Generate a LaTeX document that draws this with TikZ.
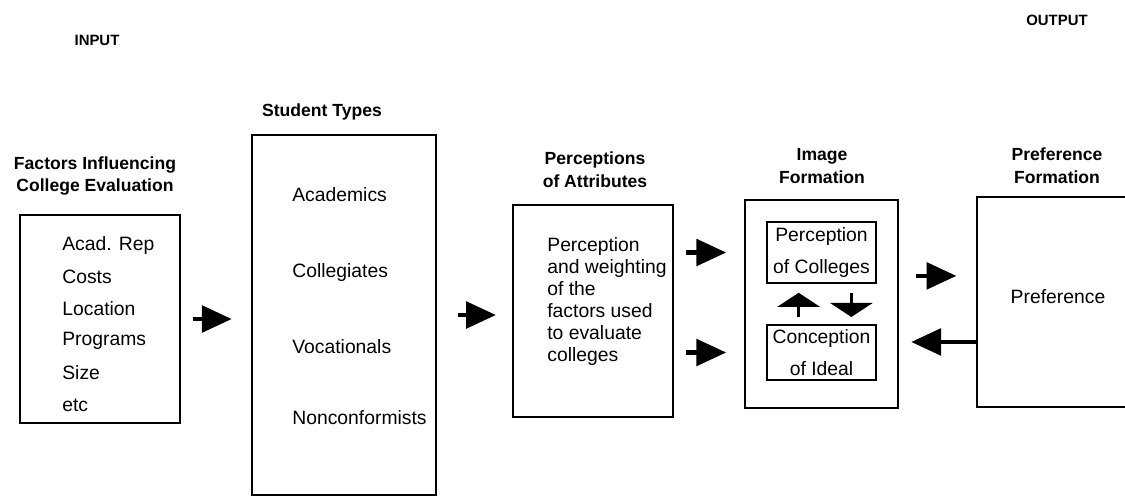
\documentclass[tikz,border=0pt]{standalone}
\usepackage{fontspec}
\setmainfont{Liberation Sans}
\usetikzlibrary{arrows.meta, positioning}

\begin{document}
\begin{tikzpicture}[x=0.02cm, y=-0.02cm,
    box/.style={draw, line width=1.4pt, inner sep=0pt},
    inbox/.style={draw, line width=1.1pt, inner sep=1pt, align=center,
      font=\fontsize{11}{18}\selectfont},
    title/.style={font=\bfseries\fontsize{10}{13}\selectfont, align=center},
    corner/.style={font=\bfseries\fontsize{8.5}{10}\selectfont},
    item/.style={font=\fontsize{11}{12.5}\selectfont, anchor=west, align=left, inner sep=0pt},
    flow/.style={line width=2.6pt, -{Triangle[length=17pt, width=15pt]}},
    vflow/.style={line width=1.6pt, -{Triangle[length=8pt, width=24pt]}}]
  \useasboundingbox (0,0) rectangle (1125,498);
  \def\px{0.02cm}

  % input / output
  \node[corner] (inp) at (97,40) {INPUT};
  \node[corner] (outp) at (1057,20) {OUTPUT};

  % boxes
  \node[box, minimum width=160*\px, minimum height=208*\px] (fac) at (100,319) {};
  \node[box, minimum width=184*\px, minimum height=360*\px] (stu) at (344,315) {};
  \node[box, minimum width=160*\px, minimum height=212*\px] (att) at (593,311) {};
  \node[box, minimum width=153*\px, minimum height=208*\px] (img) at (821.5,304) {};
  \node[box, minimum width=163*\px, minimum height=210*\px] (pre) at (1058.5,302) {};

  % titles
  \node[title] (facT) at (95,176) {Factors Influencing\\College Evaluation};
  \node[title] (stuT) at (322,112) {Student Types};
  \node[title] (attT) at (595,170) {Perceptions\\of Attributes};
  \node[title] (imgT) at (822,166) {Image\\Formation};
  \node[title] (preT) at (1057,166) {Preference\\Formation};

  % contents
  \foreach \name [count=\i] in {Acad. Rep, Costs, Location, Programs, Size, etc}{
    \node[item] (fac\i) at (62,213+32*\i) {\name};
  }
  \foreach \name/\y [count=\i] in {Academics/195, Collegiates/272,
    Vocationals/347, Nonconformists/418}{
    \node[item] (stu\i) at (292,\y) {\name};
  }
  \node[item, anchor=north west] (attx) at (547,237)
    {Perception\\and weighting\\of the\\factors used\\to evaluate\\colleges};
  \node[inbox, minimum width=109*\px, minimum height=61*\px] (col) at (821.5,252.5)
    {Perception\\of Colleges};
  \node[inbox, minimum width=109*\px, minimum height=55*\px] (ide) at (821.5,352.5)
    {Conception\\of Ideal};
  \node[font=\fontsize{11}{12.5}\selectfont] (prex) at (1058,297) {Preference};

  % arrows
  \draw[flow, shorten <=6.8pt, shorten >=10.8pt] (fac.east) -- (fac.east -| stu.west);
  \draw[flow, shorten <=12pt, shorten >=9pt] (stu.east) -- (stu.east -| att.west);
  \draw[flow, shorten <=6.8pt, shorten >=10pt] (att.east |- col) -- (img.west |- col);
  \draw[flow, shorten <=6.8pt, shorten >=10pt] (att.east |- ide) -- (img.west |- ide);
  \draw[vflow, shorten <=4pt, shorten >=5pt] ([xshift=-13pt]ide.north) -- ([xshift=-13pt]col.south);
  \draw[vflow, shorten <=5pt, shorten >=4pt] ([xshift=17pt]col.south) -- ([xshift=17pt]ide.north);
  \draw[flow, shorten <=9.6pt, shorten >=11pt] ([yshift=16pt]img.east) -- ([yshift=16pt]img.east -| pre.west);
  \draw[flow, shorten >=6.8pt] ([yshift=6pt]pre.west |- ide) -- ([yshift=6pt]img.east |- ide);
\end{tikzpicture}
\end{document}
